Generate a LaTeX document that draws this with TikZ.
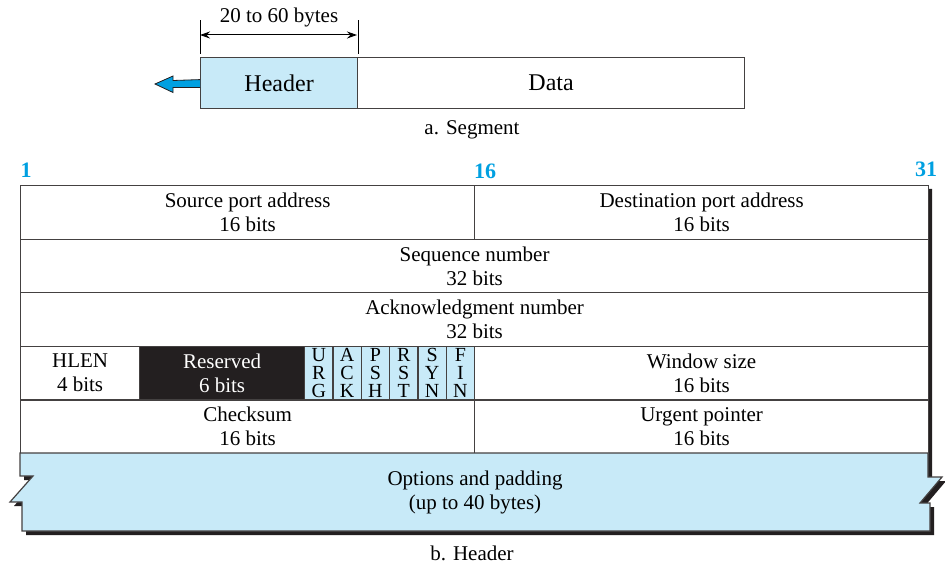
\documentclass[tikz,border=0pt]{standalone}
\usepackage{fontspec}
\setmainfont{Liberation Serif}
\definecolor{pale}{RGB}{200,234,248}
\definecolor{sky}{RGB}{0,160,225}
\definecolor{ink}{RGB}{35,31,32}
\usetikzlibrary{arrows.meta}
\tikzset{
  cell/.style={draw=ink!85,line width=0.6pt,fill=white,anchor=north west,inner sep=0pt,
               align=center,minimum height=26.8pt,font=\fontsize{10.5}{12}\selectfont},
  rsv/.style={cell,fill=ink,text=white},
  flag/.style={cell,fill=pale,minimum width=14.17pt,font=\fontsize{10}{9}\selectfont},
  seg/.style={cell,minimum height=25.5pt,font=\fontsize{12}{14}\selectfont},
  bitno/.style={font=\fontsize{11}{13}\selectfont\bfseries,text=sky},
  lbl/.style={align=center,font=\fontsize{10.5}{12}\selectfont},
  arr/.style={{Stealth[length=5pt,width=3.5pt]}-{Stealth[length=5pt,width=3.5pt]},line width=0.5pt},
}

\begin{document}
\begin{tikzpicture}[x=0.5pt,y=-0.5pt]
    \useasboundingbox (0,0) rectangle (945,566);
    % a. segment
    \node[seg,fill=pale,minimum width=78.5pt] (hdr) at (200,57) {Header};
    \node[seg,minimum width=193.5pt] (data) at (357,57) {Data};
    \draw[line width=0.5pt] ([yshift=1.5pt]hdr.north west) -- ++(0,-34);
    \draw[line width=0.5pt] ([yshift=1.5pt]hdr.north east) -- ++(0,-34);
    \coordinate (dl) at (200,35);
    \coordinate (dr) at (357,35);
    \draw[arr] (dl) -- (dr);
    \node[lbl] (len) at (279,17) {20 to 60 bytes};
    \filldraw[fill=sky,draw=ink,line width=0.4pt] (hdr.west) ++(0,-3.5) -- (173,80.5) -- (173,76)
      -- (155,84) -- (173,92.5) -- (173,87.5) -- (200,87.5);
    \node[lbl] (capa) at (472,130) {a. Segment};
    % bit positions
    \node[bitno] (b1) at (26,170) {1};
    \node[bitno] (b16) at (485,171) {16};
    \node[bitno] (b31) at (926,169) {31};
    % shadow
    \fill[ink] (24,189) -- (932,189) -- (932,481) -- (946,481) -- (924,507) -- (934,507)
      -- (934,535) -- (26,535) -- (26,506) -- (14,506) -- (37,480) -- (24,480) -- cycle;
    % b. header
    \node[cell,minimum width=227pt] (src) at (20,185) {Source port address\\16 bits};
    \node[cell,minimum width=227pt] (dst) at (474,185) {Destination port address\\16 bits};
    \node[cell,minimum width=454pt] (seq) at (20,238.6) {Sequence number\\32 bits};
    \node[cell,minimum width=454pt] (ack) at (20,292.2) {Acknowledgment number\\32 bits};
    \node[cell,minimum width=59.5pt] (hlen) at (20,345.8) {HLEN\\4 bits};
    \node[rsv,minimum width=82.5pt] (res) at (139,345.8) {Reserved\\6 bits};
    \foreach \a/\b/\c [count=\i from 0] in {U/R/G,A/C/K,P/S/H,R/S/T,S/Y/N,F/I/N}
      \node[flag] (\a\b\c) at (304+\i*28.33,345.8) {\a\\\b\\\c};
    \node[cell,minimum width=227pt] (win) at (474,345.8) {Window size\\16 bits};
    \node[cell,minimum width=227pt] (chk) at (20,399.4) {Checksum\\16 bits};
    \node[cell,minimum width=227pt] (urgp) at (474,399.4) {Urgent pointer\\16 bits};
    \filldraw[fill=pale,draw=ink!85,line width=0.6pt] (20,453) -- (928,453) -- (928,477) -- (942,477)
      -- (920,503) -- (930,503) -- (930,531) -- (22,531) -- (22,502) -- (10,502) -- (33,476)
      -- (20,476) -- cycle;
    \node[lbl] (opt) at (475,492) {Options and padding\\(up to 40 bytes)};
    \node[lbl] (capb) at (472,553) {b. Header};
\end{tikzpicture}
\end{document}
